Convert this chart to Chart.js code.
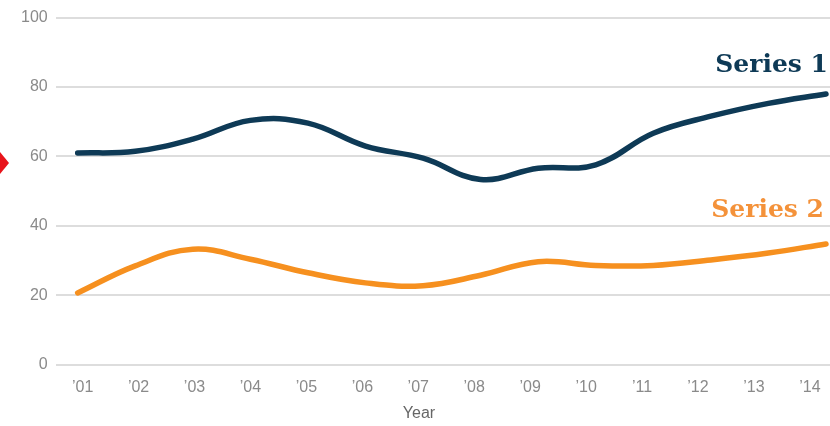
<!DOCTYPE html>
<html>
<head>
<meta charset="utf-8">
<script src="https://cdn.jsdelivr.net/npm/chart.js@4/dist/chart.umd.min.js"></script>
<style>
  html, body { margin: 0; padding: 0; background: #fff; }
  #wrap { width: 830px; height: 426px; position: relative; }
</style>
</head>
<body>
<div id="wrap"><canvas id="chart-line"></canvas></div>
<script>
const years = [1, 2, 3, 4, 5, 6, 7, 8, 9, 10, 11, 12, 13, 14];
const series1 = [61, 61.5, 65, 70.4, 69.6, 63, 59.5, 53.4, 56.6, 57.6, 66.7, 71.6, 75.3, 78];
const series2 = [20.7, 28.5, 33.3, 30.4, 26.5, 23.6, 22.8, 25.8, 29.7, 28.6, 28.6, 30.2, 32.2, 34.8];
const yTicks = [0, 20, 40, 60, 80, 100];
const seriesNames = ['Series 1', 'Series 2'];

const NAVY = '#0e3a56';
const ORANGE = '#f6901f';

const toPoints = (values) => values.map((v, i) => ({ x: years[i], y: v }));
const yearLabel = (v) => `\u2019${String(v).padStart(2, '0')}`;

// end labels, axis title and the little red marker on the left edge
const annotations = {
  id: 'annotations',
  afterDraw(chart) {
    const { ctx } = chart;
    ctx.save();
    ctx.font = 'bold 25px "DejaVu Serif"';
    ctx.textAlign = 'right';
    ctx.textBaseline = 'alphabetic';
    ctx.fillStyle = NAVY;
    ctx.fillText(seriesNames[0], 828, 72);
    ctx.fillStyle = '#f4923a';
    ctx.fillText(seriesNames[1], 824, 217);

    ctx.font = '16px "Liberation Sans"';
    ctx.fillStyle = '#666';
    ctx.textAlign = 'center';
    ctx.textBaseline = 'middle';
    ctx.fillText('Year', 419, 414);

    ctx.fillStyle = '#e8141b';
    ctx.beginPath();
    ctx.moveTo(0, 152);
    ctx.lineTo(9, 163);
    ctx.lineTo(0, 174);
    ctx.closePath();
    ctx.fill();
    ctx.restore();
  },
};

const lineStyle = (color) => ({
  borderColor: color,
  backgroundColor: color,
  borderWidth: 5.5,
  borderCapStyle: 'round',
  tension: 0.4,
  fill: false,
  pointRadius: 0,
});

new Chart(document.getElementById('chart-line').getContext('2d'), {
  type: 'line',
  data: {
    datasets: [
      { label: seriesNames[0], data: toPoints(series1), ...lineStyle(NAVY) },
      { label: seriesNames[1], data: toPoints(series2), ...lineStyle(ORANGE) },
    ],
  },
  options: {
    responsive: true,
    maintainAspectRatio: false,
    animation: false,
    layout: { padding: { left: 13, right: 0, top: 16, bottom: 24 } },
    plugins: { legend: { display: false }, tooltip: { enabled: false } },
    scales: {
      x: { type: 'linear', display: false, min: 0.618, max: 14.07 },
      xLabels: {
        type: 'linear',
        position: 'bottom',
        min: 0.518,
        max: 14.36,
        afterBuildTicks: (axis) => { axis.ticks = years.map((v) => ({ value: v })); },
        grid: { display: false },
        border: { display: false },
        ticks: {
          padding: 5,
          color: '#8a8a8a',
          font: { family: 'Liberation Sans', size: 16 },
          callback: (v) => yearLabel(v),
          maxRotation: 0,
          autoSkip: false,
        },
      },
      y: {
        min: 0,
        max: 100,
        afterBuildTicks: (axis) => { axis.ticks = yTicks.map((v) => ({ value: v })); },
        grid: { color: '#dddddd', lineWidth: 2, drawTicks: false },
        border: { display: false },
        ticks: {
          padding: 8,
          color: '#8a8a8a',
          font: { family: 'Liberation Sans', size: 16 },
        },
      },
    },
  },
  plugins: [annotations],
});
</script>
</body>
</html>
